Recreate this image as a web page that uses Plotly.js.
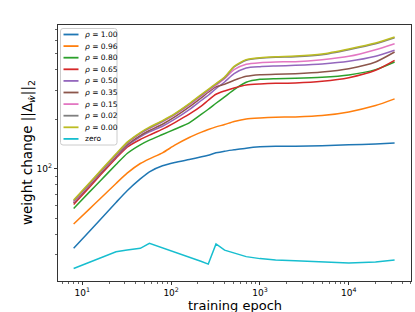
<!DOCTYPE html>
<html>
<head>
<meta charset="utf-8">
<script src="https://cdn.plot.ly/plotly-3.0.1.min.js"></script>
<style>html,body{margin:0;padding:0;background:#fff;}#chart{width:415px;height:312px;}</style>
</head>
<body>
<div id="chart"></div>
<script>
// training epochs (x)
const epochs = [8, 12, 16, 24, 32, 45, 57, 80, 110, 160, 220, 262, 320, 400, 512, 700, 1000, 1500, 2500, 5000, 10000, 20000, 32768];

// weight change ||Δ_ŵ||_2 per series
const rho100 = [32.9, 41.7, 49.3, 62.5, 73.6, 86.8, 95.9, 104.3, 109.2, 113.9, 118.2, 121.0, 125.0, 128.0, 130.4, 133.5, 135.9, 137.2, 137.2, 137.9, 139.8, 141.7, 143.7];
const rho096 = [46.2, 56.9, 66.1, 81.5, 94.1, 107.7, 115.0, 125.0, 139.1, 154.8, 166.9, 173.2, 179.7, 185.7, 193.6, 200.9, 203.7, 205.6, 206.6, 210.5, 221.6, 242.0, 265.7];
const rho080 = [57.5, 72.2, 84.6, 106.2, 123.9, 139.8, 149.2, 161.5, 174.0, 190.0, 214.5, 229.9, 250.0, 273.2, 302.6, 335.1, 349.4, 352.7, 354.3, 359.3, 371.2, 399.9, 445.2];
const rho065 = [60.8, 77.1, 91.6, 116.0, 135.3, 150.6, 160.0, 174.0, 190.9, 214.5, 240.9, 260.8, 283.5, 297.0, 309.7, 322.9, 327.5, 330.5, 332.1, 339.9, 357.6, 396.3, 455.6];
const rho050 = [62.2, 78.9, 93.7, 118.2, 137.9, 156.3, 167.6, 181.4, 200.0, 228.8, 260.8, 279.6, 306.9, 336.7, 378.1, 409.3, 417.0, 420.9, 424.9, 432.9, 449.3, 481.7, 523.9];
const rho035 = [62.2, 79.3, 94.1, 119.3, 139.8, 159.2, 170.8, 186.5, 206.6, 237.6, 270.6, 291.5, 314.1, 326.0, 344.6, 364.3, 372.9, 374.6, 378.1, 387.0, 405.6, 445.2, 511.8];
const rho015 = [63.1, 80.4, 95.5, 121.0, 142.4, 163.8, 175.6, 192.7, 212.5, 243.2, 277.0, 297.0, 321.5, 352.7, 399.9, 430.9, 441.0, 445.2, 447.2, 459.9, 481.7, 528.7, 574.7];
const rho002 = [64.0, 81.2, 96.4, 122.2, 143.8, 164.6, 177.3, 194.5, 214.5, 246.7, 280.9, 301.2, 326.0, 357.7, 415.2, 455.8, 468.5, 475.1, 479.5, 493.2, 528.9, 574.8, 625.3];
const rho000 = [64.6, 81.9, 97.3, 123.3, 145.1, 166.1, 178.9, 196.3, 216.4, 248.9, 283.5, 303.9, 329.0, 361.0, 419.0, 459.9, 472.8, 479.4, 483.9, 497.7, 533.7, 580.0, 631.0];
const zero   = [24.8, 27.1, 28.7, 31.4, 32.1, 32.9, 35.3, 33.2, 31.1, 29.0, 27.4, 26.4, 35.0, 32.1, 30.7, 29.3, 28.5, 28.0, 27.7, 27.2, 26.8, 27.2, 28.0];

const seriesNames = ['<i>ρ</i> = 1.00', '<i>ρ</i> = 0.96', '<i>ρ</i> = 0.80', '<i>ρ</i> = 0.65', '<i>ρ</i> = 0.50',
                     '<i>ρ</i> = 0.35', '<i>ρ</i> = 0.15', '<i>ρ</i> = 0.02', '<i>ρ</i> = 0.00', 'zero'];
const seriesData = [rho100, rho096, rho080, rho065, rho050, rho035, rho015, rho002, rho000, zero];
const colors = ['#1f77b4', '#ff7f0e', '#2ca02c', '#d62728', '#9467bd', '#8c564b', '#e377c2', '#7f7f7f', '#bcbd22', '#17becf'];

// tick labels
const xTickVals = [10, 100, 1000, 10000];
const xTickText = ['10<sup>1</sup>', '10<sup>2</sup>', '10<sup>3</sup>', '10<sup>4</sup>'];
const yTickVals = [100];
const yTickText = ['10<sup>2</sup>'];
const xTitle = 'training epoch';
const yTitle = 'weight change ||Δ<sub><i>ŵ</i></sub>||<sub>2</sub>';

const W = 415, H = 312, L = 58, R = 4, T = 25, B = 31;
const PW = W - L - R, PH = H - T - B;
const fx = X => (X - L) / PW;
const fy = Y => (H - B - Y) / PH;

const xMinor = [];
for (let e = 0; e <= 4; e++) for (let m = 2; m <= 9; m++) xMinor.push(m * Math.pow(10, e));
const yMinor = [];
for (let e = 1; e <= 2; e++) for (let m = 2; m <= 9; m++) yMinor.push(m * Math.pow(10, e));

const traces = seriesData.map((ys, i) => ({
  x: epochs, y: ys, type: 'scatter', mode: 'lines', name: seriesNames[i],
  line: {color: colors[i], width: 1.5, shape: i === 9 ? 'linear' : 'spline', smoothing: 0.6},
  showlegend: false, hoverinfo: 'skip'
}));

// custom legend (matplotlib style)
const shapes = [];
const annotations = [];
const bx0 = 60.5, bx1 = 117, by0 = 28.5, by1 = 145, rr = 2.5;
const rxp = rr / PW, ryp = rr / PH;
const X0 = fx(bx0), X1 = fx(bx1), Y0 = fy(by0), Y1 = fy(by1);
shapes.push({
  type: 'path', xref: 'paper', yref: 'paper', layer: 'above',
  path: `M ${X0 + rxp} ${Y0} L ${X1 - rxp} ${Y0} Q ${X1} ${Y0} ${X1} ${Y0 - ryp} L ${X1} ${Y1 + ryp} Q ${X1} ${Y1} ${X1 - rxp} ${Y1} L ${X0 + rxp} ${Y1} Q ${X0} ${Y1} ${X0} ${Y1 + ryp} L ${X0} ${Y0 - ryp} Q ${X0} ${Y0} ${X0 + rxp} ${Y0} Z`,
  fillcolor: 'rgba(255,255,255,0.8)', line: {color: '#cccccc', width: 1}
});
seriesNames.forEach((nm, i) => {
  const yy = 34.5 + 11.6 * i;
  shapes.push({type: 'line', xref: 'paper', yref: 'paper', layer: 'above',
    x0: fx(63.5), x1: fx(78.5), y0: fy(yy), y1: fy(yy), line: {color: colors[i], width: 1.8}});
  annotations.push({xref: 'paper', yref: 'paper', x: fx(83), y: fy(yy), xanchor: 'left', yanchor: 'middle',
    text: nm, showarrow: false, font: {family: 'DejaVu Sans', size: 7.5, color: '#000'}});
});
// axis titles placed like the reference
annotations.push({xref: 'paper', yref: 'paper', x: fx(28), y: fy(153), xanchor: 'center', yanchor: 'middle',
  textangle: -90, text: yTitle, showarrow: false, font: {family: 'DejaVu Sans', size: 13.5, color: '#000'}});
annotations.push({xref: 'paper', yref: 'paper', x: fx(234.5), y: fy(305.5), xanchor: 'center', yanchor: 'middle',
  text: xTitle, showarrow: false, font: {family: 'DejaVu Sans', size: 13, color: '#000'}});

const axisCommon = {
  type: 'log', showgrid: false, zeroline: false, showline: true, mirror: true,
  linecolor: '#000', linewidth: 0.8, ticks: 'outside', ticklen: 3.5, tickwidth: 0.8, tickcolor: '#000',
  tickfont: {family: 'DejaVu Sans', size: 9, color: '#000'}, tickmode: 'array'
};

const layout = {
  width: W, height: H, margin: {l: L, r: R, t: T, b: B, pad: 0},
  paper_bgcolor: '#fff', plot_bgcolor: '#fff', showlegend: false,
  font: {family: 'DejaVu Sans', color: '#000'},
  xaxis: Object.assign({}, axisCommon, {
    range: [0.727, 4.70], tickvals: xTickVals, ticktext: xTickText,
    minor: {tickmode: 'array', tickvals: xMinor, ticks: 'outside', ticklen: 2, tickwidth: 0.6, tickcolor: '#000'}
  }),
  yaxis: Object.assign({}, axisCommon, {
    range: [1.319, 2.873], tickvals: yTickVals, ticktext: yTickText,
    minor: {tickmode: 'array', tickvals: yMinor, ticks: 'outside', ticklen: 2, tickwidth: 0.6, tickcolor: '#000'}
  }),
  shapes: shapes, annotations: annotations
};

Plotly.newPlot('chart', traces, layout, {displayModeBar: false, staticPlot: true});
</script>
</body>
</html>
